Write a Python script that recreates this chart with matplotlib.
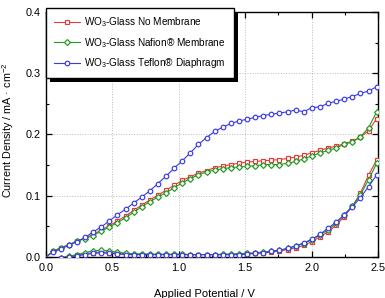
import numpy as np
import matplotlib
matplotlib.use("Agg")
import matplotlib.pyplot as plt
from matplotlib.ticker import MultipleLocator, FormatStrFormatter
from matplotlib.patches import Rectangle
from matplotlib.transforms import IdentityTransform

plt.rcParams['font.family'] = ['Liberation Sans', 'DejaVu Sans']
plt.rcParams['mathtext.default'] = 'regular'

# potential grid of the plotted (marked) points, V
potential = [0.050, 0.111, 0.172, 0.233, 0.294, 0.355, 0.416, 0.477, 0.538, 0.599,
             0.660, 0.721, 0.782, 0.843, 0.904, 0.965, 1.026, 1.087, 1.148, 1.209,
             1.270, 1.331, 1.392, 1.453, 1.514, 1.575, 1.636, 1.697, 1.758, 1.819,
             1.880, 1.941, 2.002, 2.063, 2.124, 2.185, 2.246, 2.307, 2.368, 2.429, 2.490]

no_membrane_up = [0.009, 0.015, 0.020, 0.026, 0.031, 0.037, 0.044, 0.051, 0.059, 0.067,
                  0.076, 0.085, 0.093, 0.101, 0.109, 0.117, 0.125, 0.131, 0.137, 0.141,
                  0.146, 0.148, 0.151, 0.153, 0.155, 0.156, 0.157, 0.158, 0.159, 0.161,
                  0.163, 0.166, 0.170, 0.174, 0.178, 0.181, 0.185, 0.189, 0.196, 0.206, 0.226]
no_membrane_down = [None, -0.001, 0.0005, 0.003, 0.005, 0.007, 0.008, 0.007, 0.006, 0.005,
                    0.004, 0.004, 0.004, 0.004, 0.004, 0.004, 0.004, 0.004, 0.004, 0.004,
                    0.004, 0.004, 0.004, 0.004, 0.005, 0.006, 0.007, 0.008, 0.010, 0.012,
                    0.015, 0.019, 0.025, 0.033, 0.041, 0.052, 0.066, 0.083, 0.104, 0.134, 0.158]

nafion_up = [0.009, 0.015, 0.020, 0.026, 0.030, 0.035, 0.042, 0.049, 0.056, 0.064,
             0.073, 0.082, 0.090, 0.098, 0.105, 0.113, 0.121, 0.128, 0.134, 0.139,
             0.142, 0.144, 0.146, 0.147, 0.148, 0.149, 0.151, 0.151, 0.151, 0.153,
             0.156, 0.160, 0.165, 0.170, 0.174, 0.178, 0.184, 0.188, 0.196, 0.211, 0.237]
nafion_down = [None, -0.001, 0.001, 0.004, 0.007, 0.010, 0.011, 0.010, 0.008, 0.006,
               0.0055, 0.005, 0.005, 0.0045, 0.0045, 0.0045, 0.0045, 0.004, 0.004, 0.004,
               0.004, 0.0045, 0.005, 0.0055, 0.006, 0.007, 0.008, 0.0095, 0.011, 0.014,
               0.018, 0.022, 0.028, 0.036, 0.044, 0.055, 0.069, 0.083, 0.102, 0.126, 0.153]

teflon_up = [0.008, 0.013, 0.019, 0.025, 0.032, 0.041, 0.049, 0.059, 0.069, 0.078,
             0.088, 0.098, 0.108, 0.120, 0.132, 0.145, 0.157, 0.170, 0.184, 0.195,
             0.205, 0.212, 0.218, 0.222, 0.225, 0.228, 0.231, 0.233, 0.235, 0.237,
             0.240, 0.237, 0.244, 0.245, 0.251, 0.254, 0.258, 0.262, 0.267, 0.271, 0.278]
teflon_down = [None, -0.002, 0.000, 0.002, 0.004, 0.006, 0.007, 0.006, 0.005, 0.004,
               0.004, 0.004, 0.004, 0.004, 0.004, 0.004, 0.004, 0.004, 0.004, 0.004,
               0.004, 0.004, 0.004, 0.004, 0.005, 0.006, 0.007, 0.009, 0.011, 0.014,
               0.018, 0.023, 0.029, 0.037, 0.047, 0.057, 0.069, 0.082, 0.097, 0.115, 0.134]

labels = ['WO$_3$-Glass No Membrane', 'WO$_3$-Glass Nafion\u00ae Membrane',
          'WO$_3$-Glass Teflon\u00ae Diaphragm']
colors = ['#e8383a', '#1f9a1f', '#3a3ae8']
markers = ['s', 'D', 'o']
msizes = [3.0, 3.0, 3.3]

fig = plt.figure(figsize=(3.85, 2.98), dpi=100)
ax = fig.add_axes([46/385, 1-257/298, 332/385, 245/298])

series = [(no_membrane_up, no_membrane_down), (nafion_up, nafion_down), (teflon_up, teflon_down)]
x = np.array(potential)
for (up, down), lab, c, m, ms in zip(series, labels, colors, markers, msizes):
    yu = np.array(up, dtype=float)
    # segment from origin to the first marked point (no marker)
    ax.plot([0.0, x[0]], [0.0, yu[0]], color=c, lw=0.8, zorder=3)
    ax.plot(x, yu, color=c, lw=0.8, marker=m, ms=ms, mfc='white', mec=c, mew=0.85,
            label=lab, zorder=3)
    d = np.array([np.nan if v is None else v for v in down], dtype=float)
    ax.plot(x, d, color=c, lw=0.8, marker=m, ms=ms, mfc='white', mec=c, mew=0.85, zorder=3)

ax.set_xlim(0, 2.5)
ax.set_ylim(0, 0.4)
ax.xaxis.set_major_locator(MultipleLocator(0.5))
ax.xaxis.set_minor_locator(MultipleLocator(0.25))
ax.yaxis.set_major_locator(MultipleLocator(0.1))
ax.yaxis.set_minor_locator(MultipleLocator(0.05))
ax.xaxis.set_major_formatter(FormatStrFormatter('%.1f'))
ax.yaxis.set_major_formatter(FormatStrFormatter('%.1f'))
ax.tick_params(which='both', direction='in', top=True, right=True, labelsize=7.8, colors='black')
ax.tick_params(which='major', length=4, width=0.9, pad=4)
ax.tick_params(which='minor', length=2, width=0.8)
ax.tick_params(axis='x', which='major', pad=4.5)
for s in ax.spines.values():
    s.set_linewidth(1.0)
ax.grid(True, which='major', ls=':', lw=0.7, color='#b8b8b8')
ax.set_axisbelow(True)

ax.set_xlabel('Applied Potential / V', fontsize=8.0)
ax.xaxis.set_label_coords(0.476, -0.151)
ax.xaxis.label.set_va('center')
ax.set_ylabel('Current Density / mA \u00b7 cm$^{-2}$', fontsize=7.8)
ax.yaxis.set_label_coords(-0.114, 0.518)
ax.yaxis.label.set_va('center')

leg = ax.legend(loc='upper left', bbox_to_anchor=(46/385, 1-8/298), bbox_transform=fig.transFigure,
                borderaxespad=0, fontsize=7.2, frameon=True, fancybox=False, numpoints=1,
                shadow=False, edgecolor='black',
                handlelength=2.6, handletextpad=0.5, labelspacing=0.66,
                borderpad=0.75, framealpha=1)
leg.get_frame().set_linewidth(1.0)
leg.set_zorder(5)

# solid black drop shadow, like the reference
fig.canvas.draw()
bb = leg.get_window_extent()
ax.add_patch(Rectangle((bb.x0 + 4, bb.y0 - 4), bb.width, bb.height, transform=IdentityTransform(),
                       facecolor='black', edgecolor='none', clip_on=False, zorder=4.9))

fig.savefig('out.png', dpi=100)
